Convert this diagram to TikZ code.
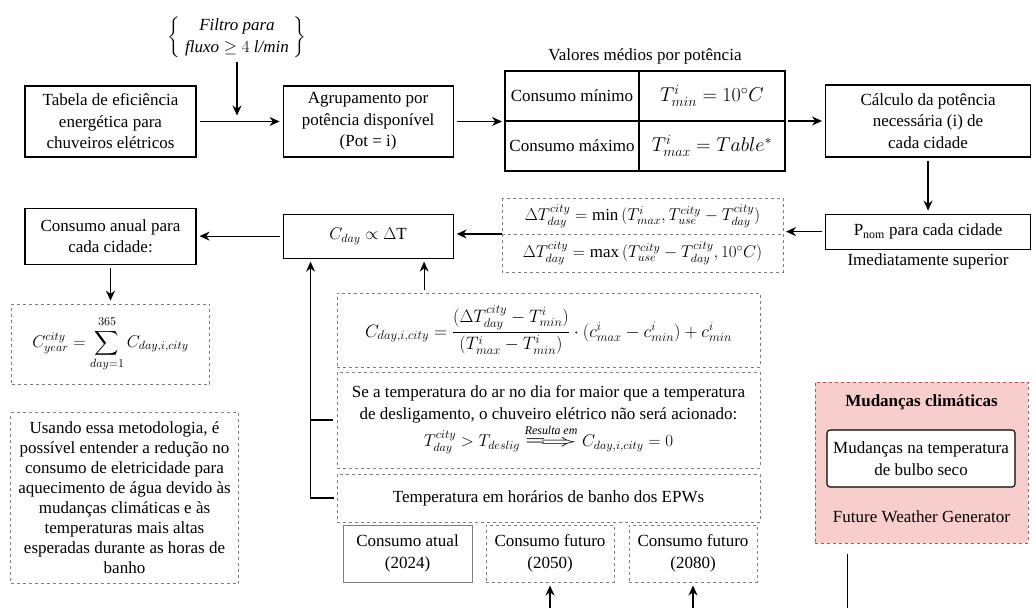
\RequirePackage{fix-cm}
\documentclass[tikz,border=0pt]{standalone}
\usepackage{amsmath,amssymb,mathtools}
\usepackage{graphicx}
\usepackage{fontspec}
\setmainfont{Liberation Serif}
\usepackage{xcolor}
\usepackage{tikz}
\usetikzlibrary{positioning,arrows.meta,calc}
\definecolor{climfill}{RGB}{248,206,204}
\definecolor{climdraw}{RGB}{184,84,80}
\definecolor{notegray}{RGB}{125,125,125}
\newcommand{\resultaem}{\overset{\textit{Resulta em}\rule[-3pt]{0pt}{3pt}}{\mathrel{\scalebox{2.2}[1]{$\Longrightarrow$}}}}

\begin{document}
\begin{tikzpicture}[x=1pt, y=-1pt, font=\fontsize{17}{21.5}\selectfont, >={Stealth[length=10pt,width=9pt]}, node distance=4pt,
  proc/.style={draw, line width=1.1pt, align=center, inner sep=2pt},
  note/.style={draw=notegray, dashed, line width=1pt, align=center, inner sep=2pt},
  cell/.style={draw, line width=1.1pt, minimum height=50pt, inner sep=0pt, outer sep=0pt},
  mathcell/.style={cell, font=\fontsize{20}{24}\selectfont},
  flow/.style={->, line width=1.2pt, shorten >=3pt, shorten <=3pt},
  link/.style={line width=1.2pt}]
\useasboundingbox (0,0) rectangle (1036,608);

\node[proc, minimum width=171pt, minimum height=71pt] (tab) at (110.5,121.5) {Tabela de eficiência\\energética para\\chuveiros elétricos};
\node[proc, minimum width=170pt, minimum height=71pt, right=86pt of tab] (agr) {Agrupamento por\\potência disponível\\(Pot = i)};
\node (filt) at (237,37) {$\left\{\begin{array}{c}\textit{Filtro para}\\ \textit{fluxo} \geq 4\ \textit{l/min}\end{array}\right\}$};
\coordinate (fj) at (filt.south |- tab.east);

\node[cell, minimum width=134pt] (cmin) at (572,96) {Consumo mínimo};
\node[mathcell, minimum width=146pt, right=0pt of cmin] (tmin) {$T^{i}_{min} = 10^{\circ}C$};
\node[cell, minimum width=134pt, below=0pt of cmin] (cmax) {Consumo máximo};
\node[mathcell, minimum width=146pt, below=0pt of tmin] (tmax) {$T^{i}_{max} = Table^{*}$};
\node[anchor=south] (vmed) at ($(cmin.north west)!0.5!(tmin.north east)+(0,-3)$) {Valores médios por potência};

\node[proc, minimum width=205pt, minimum height=72pt, anchor=west, right=40pt of tmin.south east] (calc) {Cálculo da potência\\necessária (i) de\\cada cidade};
\node[proc, minimum width=205pt, minimum height=35pt, below=56pt of calc] (pnom) {P\textsubscript{nom} para cada cidade};
\node[below=1pt of pnom] (imed) {Imediatamente superior};

\node[minimum width=281pt, minimum height=36pt, inner sep=0pt, outer sep=0pt] (dt1) at (642.5,216) {$\Delta T^{city}_{day} = \min\,(T^{i}_{max}, T^{city}_{use} - T^{city}_{day})$};
\node[minimum width=281pt, minimum height=38pt, inner sep=0pt, outer sep=0pt, below=0pt of dt1] (dt2) {$\Delta T^{city}_{day} = \max\,(T^{city}_{use} - T^{city}_{day}, 10^{\circ}C)$};
\draw[note] (dt1.north west) rectangle (dt2.south east);
\draw[note] (dt1.south west) -- (dt1.south east);

\node[proc, minimum width=170pt, minimum height=44pt, below=56pt of agr] (cday) {$C_{day} \propto \Delta\mathrm{T}$};
\node[proc, minimum width=171pt, minimum height=56pt, left=86pt of cday] (anual) {Consumo anual para\\cada cidade:};
\node[note, minimum width=198pt, minimum height=80pt, below=39pt of anual] (sum) {$\displaystyle C^{city}_{year} = \sum_{day=1}^{365} C_{day,i,city}$};
\node[note, font=\fontsize{17}{20}\selectfont, minimum width=228pt, minimum height=171pt, anchor=north west] (uso) at (10,412) {Usando essa metodologia, é\\possível entender a redução no\\consumo de eletricidade para\\aquecimento de água devido às\\mudanças climáticas e às\\temperaturas mais altas\\esperadas durante as horas de\\banho};

\node[note, font=\fontsize{18}{22}\selectfont, minimum width=423pt, minimum height=74pt] (fcd) at (548.5,330) {$C_{day,i,city} = \dfrac{(\Delta T^{city}_{day} - T^{i}_{min})}{(T^{i}_{max} - T^{i}_{min})} \cdot (c^{i}_{max} - c^{i}_{min}) + c^{i}_{min}$};
\node[note, minimum width=423pt, minimum height=96pt, below=4pt of fcd] (se) {Se a temperatura do ar no dia for maior que a temperatura\\de desligamento, o chuveiro elétrico não será acionado:\\$T^{city}_{day} > T_{deslig} \resultaem C_{day,i,city} = 0$};
\node[note, minimum width=423pt, minimum height=48pt, below=5pt of se] (epw) {Temperatura em horários de banho dos EPWs};

\node[proc, draw=notegray, line width=1pt, minimum width=129pt, minimum height=57pt] (atual) at (407.5,553.5) {Consumo atual\\(2024)};
\node[note, minimum width=128pt, minimum height=57pt, right=13pt of atual] (f50) {Consumo futuro\\(2050)};
\node[note, minimum width=128pt, minimum height=57pt, right=14pt of f50] (f80) {Consumo futuro\\(2080)};

\node[fill=climfill, draw=climdraw, dashed, line width=1pt, minimum width=213pt, minimum height=161pt] (clim) at (921.5,462.5) {};
\node[font=\fontsize{17}{21.5}\bfseries] (climt) at (921.5,402) {Mudanças climáticas};
\node[proc, fill=white, rounded corners=3pt, minimum width=188pt, minimum height=57pt] (bulbo) at (921,458.5) {Mudanças na temperatura\\de bulbo seco};
\node (fwg) at (921.5,517) {Future Weather Generator};

\coordinate (bot) at (0,608);
\coordinate (up1) at ([xshift=28pt]cday.south west);
\coordinate (up2) at ([xshift=56pt]cday.south);
\coordinate (cl) at ([xshift=33pt]clim.south west);

\draw[flow, shorten <=0pt] (filt.south) -- ([yshift=3pt]fj);
\draw[flow] (tab) -- (agr);
\draw[flow] (agr.east) -- (agr.east -| cmin.west);
\draw[flow] (tmin.south east) -- (calc.west);
\draw[flow] (calc) -- (pnom);
\draw[flow] (pnom.west) -- (pnom.west -| dt1.east);
\draw[flow, shorten <=0pt] (dt1.south west) -- (dt1.south west -| cday.east);
\draw[flow] (cday) -- (anual);
\draw[flow] (anual) -- (sum);
\draw[flow] (fcd.north -| up2) -- (up2);
\draw[flow] (epw.west) -| (up1);
\draw[link, shorten <=4pt] (se.west) -- (se.west -| up1);
\draw[flow, shorten <=0pt] (f50.south |- bot) -- (f50.south);
\draw[flow, shorten <=0pt] (f80.south |- bot) -- (f80.south);
\draw[link, shorten <=10pt] (cl) -- (cl |- bot);
\end{tikzpicture}
\end{document}
